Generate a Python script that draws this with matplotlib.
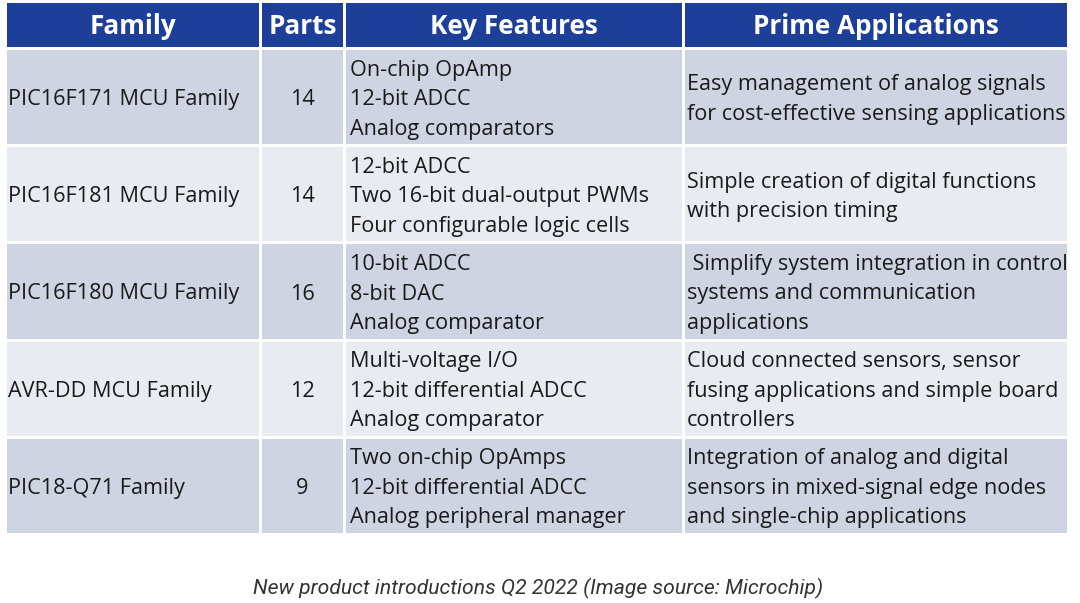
import matplotlib.pyplot as plt
from matplotlib.patches import Rectangle

# Table content
headers = ['Family', 'Parts', 'Key Features', 'Prime Applications']
families = ['PIC16F171 MCU Family', 'PIC16F181 MCU Family', 'PIC16F180 MCU Family',
            'AVR-DD MCU Family', 'PIC18-Q71 Family']
parts = ['14', '14', '16', '12', '9']
features = [
    ['On-chip OpAmp', '12-bit ADCC', 'Analog comparators'],
    ['12-bit ADCC', 'Two 16-bit dual-output PWMs', 'Four configurable logic cells'],
    ['10-bit ADCC', '8-bit DAC', 'Analog comparator'],
    ['Multi-voltage I/O', '12-bit differential ADCC', 'Analog comparator'],
    ['Two on-chip OpAmps', '12-bit differential ADCC', 'Analog peripheral manager'],
]
applications = [
    ['Easy management of analog signals', 'for cost-effective sensing applications'],
    ['Simple creation of digital functions', 'with precision timing'],
    [' Simplify system integration in control', 'systems and communication', 'applications'],
    ['Cloud connected sensors, sensor', 'fusing applications and simple board', 'controllers'],
    ['Integration of analog and digital', 'sensors in mixed-signal edge nodes', 'and single-chip applications'],
]
caption = 'New product introductions Q2 2022 (Image source: Microchip)'

col_x = [7, 262, 346, 685, 1070]
header_top, header_bot = 3, 47
row_top = 50
row_h = 97.2
gap = 3
line_h = 29.5

header_color = '#1d3f99'
row_colors = ['#cfd4e2', '#e9ebf2']
text_color = '#1a1a1a'
font = 'Open Sans'
fs = 15.6

fig = plt.figure(figsize=(10.8, 6.03), dpi=100)
ax = fig.add_axes([0, 0, 1, 1])
ax.set_xlim(0, 1080)
ax.set_ylim(603, 0)
ax.axis('off')

# header
for c in range(4):
    x0, x1 = col_x[c], col_x[c + 1]
    ax.add_patch(Rectangle((x0, header_top), x1 - x0 - gap, header_bot - header_top,
                           color=header_color, lw=0))
    ax.text((x0 + x1 - gap) / 2, (header_top + header_bot) / 2 + 1, headers[c],
            color='white', fontsize=18.8, fontweight='bold', family=font,
            ha='center', va='center')

# body rows
for r in range(len(families)):
    y0 = row_top + r * row_h
    h = row_h - gap
    yc = y0 + h / 2 + 2.5
    for c in range(4):
        x0, x1 = col_x[c], col_x[c + 1]
        ax.add_patch(Rectangle((x0, y0), x1 - x0 - gap, h, color=row_colors[r % 2], lw=0))

    ax.text(col_x[0] + 1, yc, families[r], color=text_color, fontsize=fs, family=font,
            ha='left', va='center')
    ax.text((col_x[1] + col_x[2] - gap) / 2, yc, parts[r], color=text_color, fontsize=fs,
            family=font, ha='center', va='center')
    for lines, x in ((features[r], col_x[2] + 4), (applications[r], col_x[3] + 2)):
        n = len(lines)
        for i, s in enumerate(lines):
            ax.text(x, yc + (i - (n - 1) / 2) * line_h, s, color=text_color, fontsize=fs,
                    family=font, ha='left', va='center')

ax.text(538, 588, caption, color='#333333', fontsize=15.2, family='Roboto',
        style='italic', ha='center', va='center')

fig.savefig('out.png', dpi=100, facecolor='white')
